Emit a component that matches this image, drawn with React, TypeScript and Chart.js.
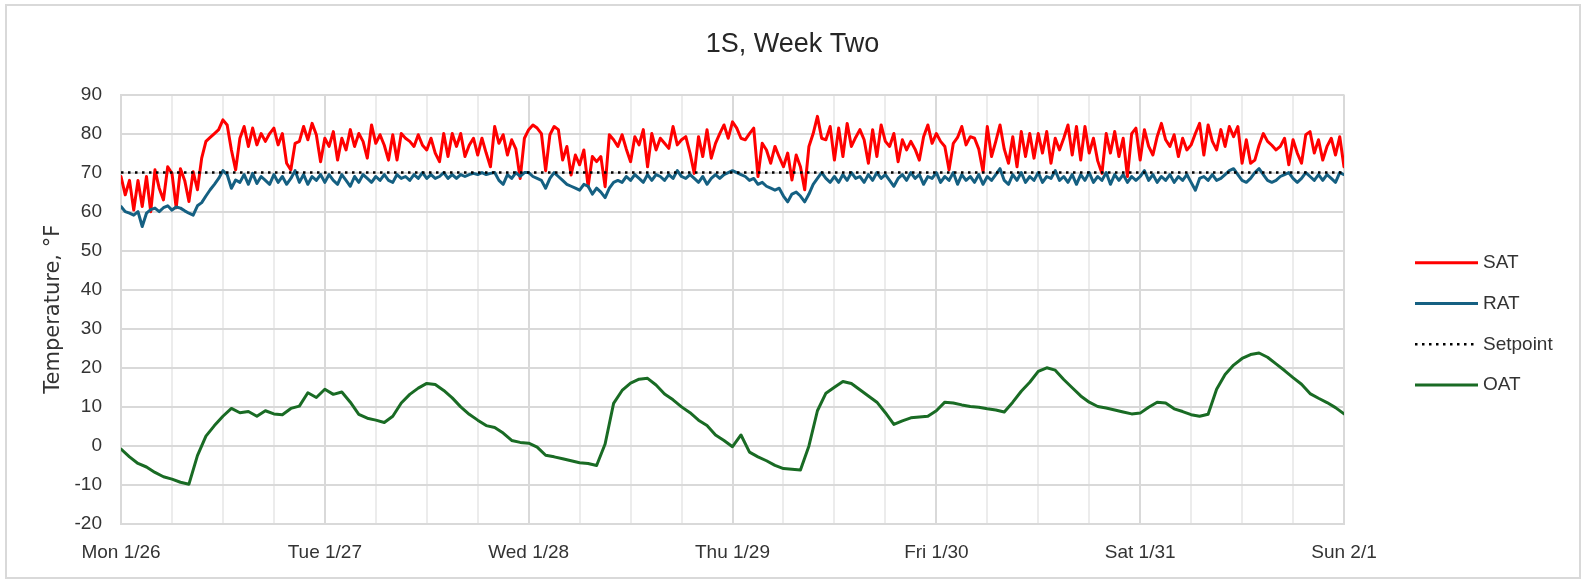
import React, { useEffect, useRef } from "react";
import { Chart, registerables } from "chart.js";

Chart.register(...registerables);

// ---------- DATA ----------
const CHART_TITLE = "1S, Week Two";
const Y_AXIS_TITLE = "Temperature, °F";
const DAY_LABELS = ["Mon 1/26", "Tue 1/27", "Wed 1/28", "Thu 1/29", "Fri 1/30", "Sat 1/31", "Sun 2/1"];
const HOURS_PER_DAY = 24;
const GRID_STEP_HOURS = 6;
const X_MAX_HOURS = 144;
const Y_MIN = -20;
const Y_MAX = 90;
const Y_STEP = 10;

const SERIES_NAMES = ["SAT", "RAT", "Setpoint", "OAT"];

// Supply air temperature, every 30 minutes from Mon 1/26 00:00
const SAT_STEP_HOURS = 0.5;
const SAT_VALUES = [
  // Mon
  69, 64.3, 68, 60.4, 68, 61.3, 69, 60, 70.7, 66, 63, 71.5, 69.8, 61, 71, 68, 62.6, 70.2, 65.6, 73.7, 78, 79, 80, 81,
  83.5, 82.2, 75.8, 70.7, 78.8, 81.8, 76.7, 81.4, 77.1, 80, 78, 80, 81.4, 77.1, 80, 72.4, 70.7, 77.5, 78, 81.8, 78.4, 82.6, 79.7, 72.8,
  // Tue
  78.8, 76.7, 80.5, 73.2, 78.8, 75.8, 81, 76.7, 80, 78, 73.7, 82.2, 77.5, 79.7, 77, 73.2, 79.7, 73.2, 80, 78.8, 78, 76.7, 79.7, 77,
  75.8, 78.8, 75, 72.8, 80, 74.1, 80, 76.7, 80, 74.1, 77, 78.8, 74.5, 78.8, 75, 71.5, 81.8, 77.5, 79.7, 74.5, 78.4, 76, 68.5, 78.8,
  // Wed
  81, 82.2, 81.4, 80, 70.5, 79.7, 81.8, 81, 73.2, 76.7, 69.4, 74.5, 72, 75.8, 66.4, 74.1, 72.8, 74.1, 66.4, 79.7, 78.4, 76.7, 79.7, 76,
  72.8, 79.2, 77.1, 81, 71.5, 80, 75.8, 78.8, 77.5, 76.2, 81.8, 77.1, 78.4, 79.2, 75, 69.8, 79.2, 74.1, 81, 73.7, 77.5, 80, 82.2, 78.8,
  // Thu
  83, 81.4, 78.8, 78.4, 80, 81.4, 69, 77.5, 75.8, 72.4, 76.7, 74, 71.5, 75, 68.1, 74.5, 71.5, 65.6, 76.7, 80, 84.4, 78.8, 78.4, 81.8,
  73.2, 81.4, 74.1, 82.6, 76.7, 79, 81, 78.4, 72.4, 81, 74.1, 82.2, 78, 76.7, 80, 72.8, 78.4, 75.8, 78, 76, 73.2, 79.2, 82.2, 77.5,
  // Fri
  80, 78, 76.7, 70.7, 77.5, 79, 81.8, 77.1, 79.2, 78.8, 76, 70.2, 81.8, 74.1, 78, 82.2, 76, 72.4, 79.2, 71.5, 80.5, 74.1, 80, 73.7,
  80, 75, 80.5, 72.4, 78.8, 75.8, 78.8, 82.2, 74.5, 81.8, 73.2, 81.8, 75, 78.8, 73, 69.8, 80, 75, 80.5, 74.1, 78.8, 69, 80, 81.4,
  // Sat (+ Sun 00:00)
  73.2, 81, 76.7, 74.5, 79.2, 82.6, 78.4, 76.7, 79.7, 74.1, 78.8, 75.8, 77.1, 80, 82.6, 74.5, 82.2, 78, 75.8, 81, 76.7, 81.8, 79.2, 81.8,
  72.4, 78.4, 72.4, 73.2, 77, 80, 78, 77, 75.8, 76.7, 78.8, 72, 78.4, 75, 72.4, 79.7, 80.5, 75, 78.4, 73.2, 76.7, 78.8, 74.5, 79.2, 71.5,
];

// Return air temperature, every 30 minutes
const RAT_STEP_HOURS = 0.5;
const RAT_VALUES = [
  // Mon
  61.3, 60, 59.6, 59.1, 60, 56.2, 59.6, 60.5, 60.9, 60, 61, 61.5, 60.4, 61.2, 60.9, 60.2, 59.6, 59.1, 61.5, 62.3, 64, 65.6, 67, 68.5,
  70.5, 69.5, 66, 68.1, 67.5, 69.5, 67, 69.8, 67.2, 69, 68, 67, 69.5, 67.5, 69, 67, 68.5, 70.5, 67.5, 69.5, 67, 69, 68, 69.5,
  // Tue
  67.5, 69.5, 68, 67, 69.5, 68, 66.5, 69, 67.5, 69.5, 68.5, 67.5, 69, 68, 69.5, 68, 67.5, 69.5, 68.5, 69, 68, 69.5, 68.5, 70,
  68.5, 69.5, 68.5, 69, 70, 68.5, 69.5, 68.5, 69.5, 69, 69.5, 69.8, 69.5, 70, 69.5, 69.8, 70, 68, 67, 69.5, 68.5, 70, 69, 70,
  // Wed
  70, 69, 68.5, 68, 66, 68.5, 70, 69, 68, 67, 66.5, 66, 65.5, 67, 66.5, 64.5, 66, 65, 63.6, 66, 67.5, 68, 67.5, 69,
  68, 69.5, 68.5, 67.5, 69.5, 68, 69.5, 69, 68, 69.5, 68.5, 70.5, 69, 68.5, 69.5, 68.5, 67.5, 69, 67, 68.5, 69.5, 68.5, 69.5, 70,
  // Thu
  70.5, 70, 69.5, 69, 68, 68.5, 67, 67.5, 66.5, 66, 65.5, 66, 64, 62.5, 64.5, 65, 64, 62.5, 64.5, 67, 68.5, 70, 68.5, 67.5,
  69, 67.5, 69.5, 68, 70, 68.5, 69, 67.5, 69.5, 68, 70, 68.5, 69.5, 68, 66.5, 68.5, 69.5, 68, 70, 68.5, 69.5, 67, 69, 68.5,
  // Fri
  70, 67.5, 69, 68, 70, 67, 69.5, 68, 69, 67.5, 69.5, 67, 69, 68, 69.5, 71, 68, 67, 69.5, 68, 70, 67.5, 69, 68,
  70, 67.5, 69, 68.5, 70.5, 68, 69, 67.5, 69.5, 67, 69.5, 68, 70, 67.5, 69, 68, 70, 67, 69.5, 68, 69.5, 67.5, 69, 68,
  // Sat (+ Sun 00:00)
  69, 70.5, 68, 69.5, 67.5, 69, 68, 69.5, 67.5, 69, 68, 69.5, 67.5, 65.5, 68.5, 69, 68, 69.5, 68, 68.5, 69.5, 70.5, 71, 69.5,
  68, 67.5, 68.5, 70, 71, 69.5, 68, 67.5, 68, 69, 69.5, 70, 68.5, 67.5, 68.5, 70, 69, 68, 69.5, 68, 69.5, 68.5, 67.5, 70, 69.5,
];

// Setpoint
const SETPOINT_VALUE = 70;

// Outside air temperature, hourly
const OAT_STEP_HOURS = 1;
const OAT_VALUES = [
  // Mon
  -0.8, -2.8, -4.5, -5.4, -6.8, -7.9, -8.5, -9.3, -9.8, -2.5, 2.5, 5.2, 7.6, 9.6, 8.5, 8.8, 7.6, 9.0, 8.2, 8.0, 9.6, 10.2, 13.6, 12.4,
  // Tue
  14.5, 13.2, 13.8, 11.2, 8.1, 7.1, 6.6, 6.0, 7.6, 11.0, 13.2, 14.8, 16.0, 15.7, 14.2, 12.3, 10.0, 8.1, 6.6, 5.2, 4.7, 3.3, 1.4, 0.9,
  // Wed
  0.7, -0.3, -2.4, -2.8, -3.3, -3.8, -4.3, -4.5, -5.0, 0.5, 10.9, 14.2, 16.1, 17.1, 17.3, 15.6, 13.3, 11.8, 10.0, 8.5, 6.6, 5.2, 2.8, 1.4,
  // Thu
  -0.2, 2.8, -1.6, -2.8, -3.8, -5.0, -5.8, -6.0, -6.2, 0.0, 9.0, 13.5, 15.0, 16.5, 16.0, 14.4, 12.8, 11.2, 8.5, 5.5, 6.4, 7.2, 7.4, 7.6,
  // Fri
  9.0, 11.2, 11.0, 10.5, 10.1, 9.9, 9.5, 9.2, 8.7, 11.2, 14.0, 16.3, 19.1, 20.0, 19.4, 17.0, 14.9, 12.8, 11.2, 10.1, 9.7, 9.2, 8.7, 8.2,
  // Sat (+ Sun 00:00)
  8.4, 9.9, 11.2, 11.0, 9.5, 8.8, 8.0, 7.6, 8.1, 14.5, 18.3, 20.7, 22.4, 23.4, 23.8, 22.7, 21.0, 19.3, 17.5, 15.8, 13.4, 12.2, 11.1, 9.8, 8.2,
];

// ---------- STYLE ----------
const COLORS = { SAT: "#FF0000", RAT: "#156082", Setpoint: "#000000", OAT: "#196B24" };
const TEXT_COLOR = "#333333";
const GRID_MAJOR = "#d9d9d9";
const GRID_MINOR = "#ececec";
const FONT = "'Liberation Sans', Arial, sans-serif";

const toPoints = (values: number[], step: number) => values.map((v, i) => ({ x: i * step, y: v }));

const sideLegend = {
  id: "sideLegend",
  afterDraw(chart: any) {
    const { ctx, chartArea } = chart;
    const x0 = chartArea.right + 71;
    const lineLen = 63;
    const y0 = chartArea.top + 168.2;
    const gap = 40.8;
    chart.data.datasets.forEach((ds: any, i: number) => {
      const y = y0 + i * gap;
      ctx.save();
      ctx.strokeStyle = ds.borderColor;
      ctx.lineWidth = ds.borderDash ? 2.5 : 3;
      ctx.lineCap = "butt";
      ctx.setLineDash(ds.borderDash || []);
      ctx.beginPath();
      ctx.moveTo(x0, y);
      ctx.lineTo(x0 + lineLen, y);
      ctx.stroke();
      ctx.setLineDash([]);
      ctx.fillStyle = TEXT_COLOR;
      ctx.font = `19px ${FONT}`;
      ctx.textAlign = "left";
      ctx.textBaseline = "middle";
      ctx.fillText(ds.label, x0 + lineLen + 5, y);
      ctx.restore();
    });
  },
};

export default function App() {
  const canvasRef = useRef<HTMLCanvasElement | null>(null);

  useEffect(() => {
    if (!canvasRef.current) return;
    const lineBase = {
      pointRadius: 0,
      pointHoverRadius: 0,
      borderJoinStyle: "round" as const,
      borderCapStyle: "round" as const,
      tension: 0,
      fill: false,
    };
    const chart = new Chart(canvasRef.current, {
      type: "line",
      data: {
        datasets: [
          { ...lineBase, label: SERIES_NAMES[0], data: toPoints(SAT_VALUES, SAT_STEP_HOURS), borderColor: COLORS.SAT, backgroundColor: COLORS.SAT, borderWidth: 3, order: 4 },
          { ...lineBase, label: SERIES_NAMES[1], data: toPoints(RAT_VALUES, RAT_STEP_HOURS), borderColor: COLORS.RAT, backgroundColor: COLORS.RAT, borderWidth: 3, order: 3 },
          {
            ...lineBase,
            label: SERIES_NAMES[2],
            data: [
              { x: 0, y: SETPOINT_VALUE },
              { x: X_MAX_HOURS, y: SETPOINT_VALUE },
            ],
            borderColor: COLORS.Setpoint,
            backgroundColor: COLORS.Setpoint,
            borderWidth: 2.5,
            borderDash: [2.5, 4.5],
            borderCapStyle: "butt" as const,
            order: 2,
          },
          { ...lineBase, label: SERIES_NAMES[3], data: toPoints(OAT_VALUES, OAT_STEP_HOURS), borderColor: COLORS.OAT, backgroundColor: COLORS.OAT, borderWidth: 3, order: 1 },
        ],
      },
      options: {
        animation: false,
        responsive: false,
        devicePixelRatio: 1,
        events: [],
        layout: { padding: 0 },
        plugins: {
          legend: { display: false },
          tooltip: { enabled: false },
          title: {
            display: true,
            text: CHART_TITLE,
            color: "#262626",
            font: { family: FONT, size: 27, weight: "normal" },
            padding: { top: 28.8, bottom: 33.3 },
          },
        },
        scales: {
          x: {
            type: "linear",
            min: 0,
            max: X_MAX_HOURS,
            afterFit: (s: any) => {
              s.height = 57;
            },
            ticks: {
              stepSize: GRID_STEP_HOURS,
              autoSkip: false,
              maxRotation: 0,
              padding: 17,
              color: TEXT_COLOR,
              font: { family: FONT, size: 19 },
              callback: (v: any) => {
                const n = Number(v);
                return n % HOURS_PER_DAY === 0 ? DAY_LABELS[n / HOURS_PER_DAY] : "";
              },
            },
            grid: {
              drawTicks: false,
              lineWidth: 2,
              color: (c: any) => (c.tick && c.tick.value % HOURS_PER_DAY === 0 ? GRID_MAJOR : GRID_MINOR),
            },
            border: { display: true, color: GRID_MAJOR, width: 2 },
          },
          y: {
            type: "linear",
            position: "left",
            min: Y_MIN,
            max: Y_MAX,
            afterFit: (s: any) => {
              s.width = 121;
            },
            ticks: {
              stepSize: Y_STEP,
              padding: 19,
              color: TEXT_COLOR,
              font: { family: FONT, size: 19 },
            },
            grid: { drawTicks: false, lineWidth: 2, color: GRID_MAJOR },
            border: { display: true, color: GRID_MAJOR, width: 2 },
            title: {
              display: true,
              text: Y_AXIS_TITLE,
              color: TEXT_COLOR,
              font: { family: "'DejaVu Sans', sans-serif", size: 21 },
              padding: { top: 41, bottom: 0 },
            },
          },
          yRightSpace: {
            type: "linear",
            position: "right",
            display: true,
            afterFit: (s: any) => {
              s.width = 241;
            },
            ticks: { display: false },
            grid: { display: false, drawTicks: false },
            border: { display: false },
          },
        },
      },
      plugins: [sideLegend],
    });
    return () => chart.destroy();
  }, []);

  return (
    <div style={{ position: "fixed", left: 0, top: 0, width: 1585, height: 581, background: "#ffffff" }}>
      <canvas ref={canvasRef} width={1585} height={581} style={{ display: "block", position: "absolute", left: 0, top: 0 }} />
      <div
        style={{
          position: "absolute",
          left: 5,
          top: 4,
          width: 1576,
          height: 575,
          boxSizing: "border-box",
          border: "2px solid #d9d9d9",
          pointerEvents: "none",
        }}
      />
    </div>
  );
}
